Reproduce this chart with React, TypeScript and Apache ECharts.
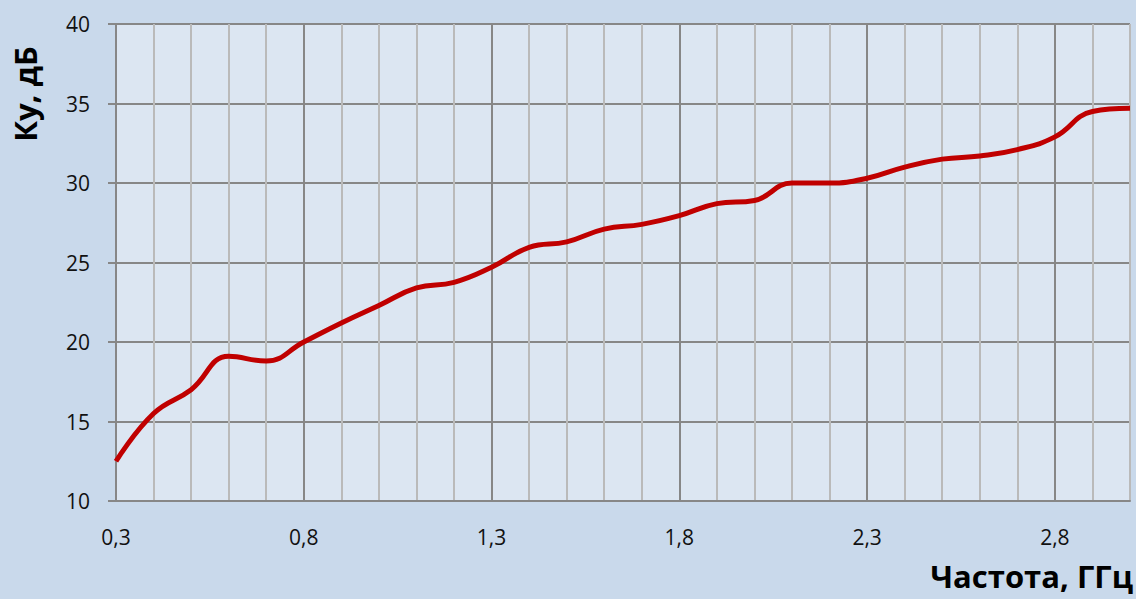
import { useEffect, useRef } from "react";
import * as echarts from "echarts";

const frequencies = [
  0.3, 0.4, 0.5, 0.6, 0.7, 0.8, 0.9, 1.0, 1.1, 1.2, 1.3, 1.4, 1.5, 1.6,
  1.7, 1.8, 1.9, 2.0, 2.1, 2.2, 2.3, 2.4, 2.5, 2.6, 2.7, 2.8, 2.9, 3.0,
];
const gainDb = [
  12.5, 15.5, 17.0, 19.1, 18.8, 20.0, 21.2, 22.3, 23.4, 23.75, 24.7, 25.95,
  26.3, 27.1, 27.4, 27.95, 28.7, 28.9, 30.0, 30.0, 30.3, 31.0, 31.5, 31.7,
  32.1, 32.9, 34.5, 34.7,
];
const yMin = 10;
const yMax = 40;
const yStep = 5;
const xLabelEvery = 5;
const xTitle = "Частота, ГГц";
const yTitle = "Ку, дБ";

const FONT = "'Open Sans', 'Noto Sans', sans-serif";
const MAJOR = "#878787";
const MINOR = "#bababa";

export default function App() {
  const ref = useRef<HTMLDivElement>(null);
  useEffect(() => {
    document.body.style.margin = "0";
    if (!ref.current) return;
    const chart = echarts.init(ref.current, undefined, { renderer: "svg" });
    const categories = frequencies.map((f) => f.toFixed(1).replace(".", ","));
    const lineColors = [MAJOR, MINOR, MINOR, MINOR, MINOR];
    chart.setOption({
      animation: false,
      backgroundColor: "#c9d9eb",
      grid: {
        left: 116,
        right: 6,
        top: 24,
        bottom: 98,
        show: true,
        backgroundColor: "#dce6f2",
        borderWidth: 0,
      },
      xAxis: {
        type: "category",
        data: categories,
        boundaryGap: false,
        axisLine: { show: true, lineStyle: { color: MAJOR, width: 2 } },
        axisTick: { show: false },
        axisLabel: {
          interval: xLabelEvery - 1,
          margin: 25,
          color: "#111",
          fontSize: 21,
          fontFamily: FONT,
        },
        splitLine: {
          show: true,
          interval: 0,
          showMinLine: true,
          showMaxLine: true,
          lineStyle: { color: lineColors, width: 2 },
        },
      },
      yAxis: {
        type: "value",
        min: yMin,
        max: yMax,
        interval: yStep,
        axisLine: { show: true, lineStyle: { color: MAJOR, width: 2 } },
        axisTick: { show: true, length: 8, lineStyle: { color: MAJOR, width: 2 } },
        axisLabel: {
          margin: 26,
          color: "#111",
          fontSize: 21,
          fontFamily: FONT,
        },
        splitLine: { show: true, lineStyle: { color: MAJOR, width: 2 } },
      },
      series: [
        {
          type: "line",
          data: gainDb,
          smooth: 0.45,
          showSymbol: false,
          lineStyle: { color: "#c00000", width: 5 },
        },
      ],
      graphic: [
        {
          type: "text",
          right: 3,
          top: 560,
          style: {
            text: xTitle,
            font: `bold 31px ${FONT}`,
            fill: "#000",
          },
        },
        {
          type: "text",
          x: 25,
          y: 94,
          rotation: Math.PI / 2,
          style: {
            text: yTitle,
            font: `bold 31px ${FONT}`,
            fill: "#000",
            align: "center",
            verticalAlign: "middle",
          },
        },
      ],
    });
    return () => chart.dispose();
  }, []);
  return <div ref={ref} style={{ width: 1136, height: 599 }} />;
}
